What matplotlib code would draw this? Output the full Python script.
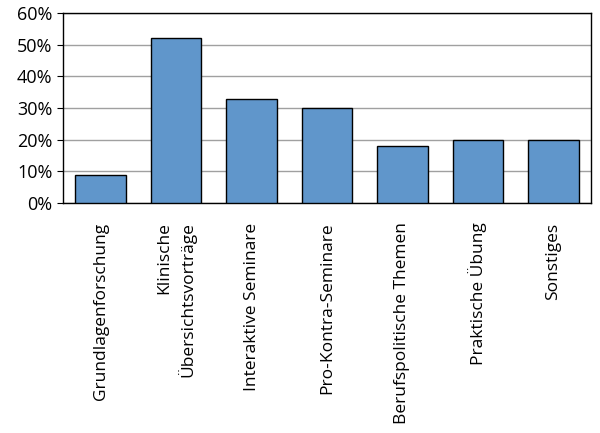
import matplotlib as mpl
mpl.use('Agg')
mpl.rcParams['font.family'] = ['Open Sans', 'DejaVu Sans']
import matplotlib.pyplot as plt
import matplotlib.ticker as ticker
import numpy as np

categories = ['Grundlagenforschung', 'Klinische\nÜbersichtsvorträge', 'Interaktive Seminare',
              'Pro-Kontra-Seminare', 'Berufspolitische Themen', 'Praktische Übung', 'Sonstiges']
values = [9, 52, 33, 30, 18, 20, 20]
yticks = [0, 10, 20, 30, 40, 50, 60]

fig = plt.figure(figsize=(6, 4.33), dpi=100)
ax = fig.add_axes([0.105, 0.531, 0.88, 0.439])

x = np.arange(len(categories))
ax.bar(x, values, width=0.67, color='#6096cb', edgecolor='black', linewidth=1, zorder=3)

ax.set_ylim(0, 60)
ax.set_xlim(-0.5, len(categories) - 0.5)
ax.set_yticks(yticks)
ax.yaxis.set_major_formatter(ticker.FuncFormatter(lambda v, p: '%d%%' % v))
ax.yaxis.grid(True, color='#a0a0a0', linewidth=1, zorder=0)
ax.set_xticks(x)
ax.set_xticklabels(categories, rotation=90, ha='center', va='top', fontsize=12.5,
                   linespacing=1.35, multialignment='right')
ax.tick_params(axis='x', length=0, pad=14)
ax.tick_params(axis='y', labelsize=13, length=4, direction='out')
for s in ax.spines.values():
    s.set_color('black')
    s.set_linewidth(1)

fig.savefig('out.png', dpi=100)
